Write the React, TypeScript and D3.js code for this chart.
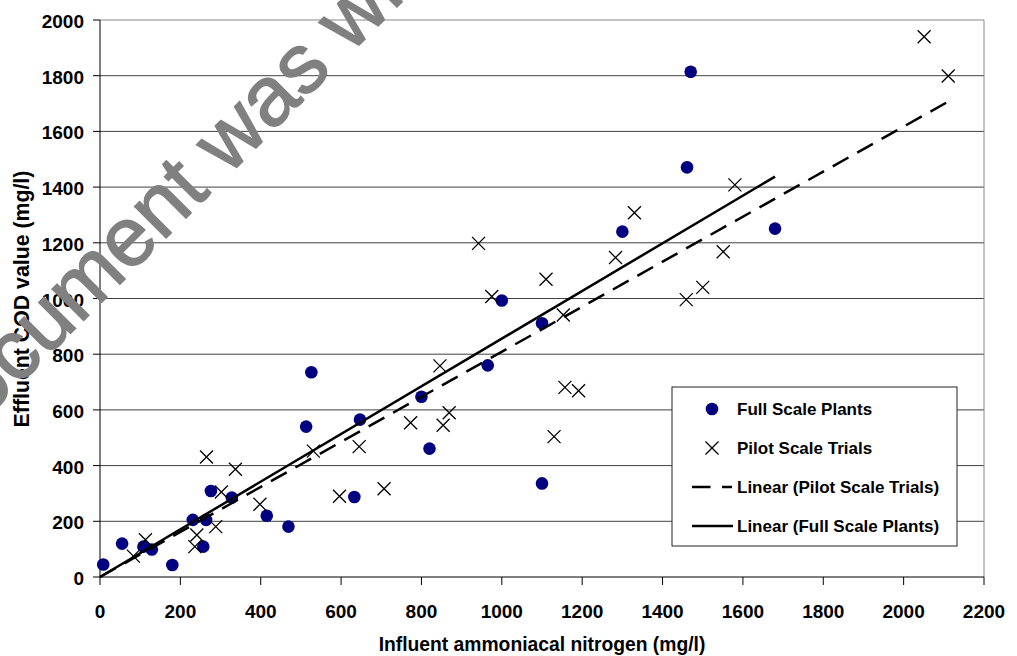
import React from "react";
import * as d3 from "d3";

// Full Scale Plants: influent ammoniacal nitrogen (mg/l) vs effluent COD (mg/l)
const fullX = [8, 55, 108, 129, 180, 231, 257, 264, 276, 328, 415, 469, 513, 526, 633, 647, 800, 820, 965, 1000, 1100, 1100, 1300, 1461, 1470, 1680];
const fullY = [45, 120, 109, 99, 43, 205, 109, 205, 309, 285, 220, 181, 540, 735, 287, 565, 647, 461, 760, 993, 911, 336, 1240, 1471, 1814, 1251];

// Pilot Scale Trials
const pilotX = [83, 113, 236, 241, 265, 288, 302, 337, 398, 531, 596, 645, 707, 773, 846, 854, 869, 942, 975, 1110, 1130, 1153, 1157, 1191, 1283, 1330, 1459, 1500, 1551, 1580, 2051, 2111];
const pilotY = [75, 134, 109, 151, 431, 181, 305, 387, 261, 452, 290, 468, 317, 554, 758, 545, 590, 1198, 1007, 1069, 504, 941, 681, 669, 1147, 1308, 996, 1040, 1168, 1408, 1940, 1799];

const xTicks = [0, 200, 400, 600, 800, 1000, 1200, 1400, 1600, 1800, 2000, 2200];
const yTicks = [0, 200, 400, 600, 800, 1000, 1200, 1400, 1600, 1800, 2000];

const xTitle = "Influent ammoniacal nitrogen (mg/l)";
const yTitle = "Effluent COD value (mg/l)";
const legendLabels = ["Full Scale Plants", "Pilot Scale Trials", "Linear (Pilot Scale Trials)", "Linear (Full Scale Plants)"];
const watermark = "This document was withdrawn";

const FONT = "'Liberation Sans', Arial, sans-serif";

export default function App() {
  const W = 1017;
  const H = 656;
  const x = d3.scaleLinear().domain([0, 2200]).range([100, 984]);
  const y = d3.scaleLinear().domain([0, 2000]).range([577, 20]);

  // linear trend through origin (least squares)
  const slope = (xs: number[], ys: number[]) =>
    d3.sum(xs, (v, i) => v * ys[i]) / d3.sum(xs, (v) => v * v);
  const sFull = slope(fullX, fullY);
  const sPilot = slope(pilotX, pilotY);
  const line = d3
    .line<[number, number]>()
    .x((d) => x(d[0]))
    .y((d) => y(d[1]));
  const fullMax = d3.max(fullX) as number;
  const pilotMax = d3.max(pilotX) as number;
  const fullLine = line([
    [0, 0],
    [fullMax, fullMax * sFull],
  ]) as string;
  const pilotLine = line([
    [0, 0],
    [pilotMax, pilotMax * sPilot],
  ]) as string;

  const crossPath = (cx: number, cy: number, r: number) =>
    `M${cx - r},${cy - r}L${cx + r},${cy + r}M${cx - r},${cy + r}L${cx + r},${cy - r}`;

  const dash = "18,10";
  const lx = 672, ly = 387, lw = 285, lh = 159;
  const rowY = [409, 448, 487, 526];

  return (
    <svg
      width={W}
      height={H}
      viewBox={`0 0 ${W} ${H}`}
      style={{ position: "absolute", left: 0, top: 0, background: "#fff" }}
      fontFamily={FONT}
    >
      <rect x={0} y={0} width={W} height={H} fill="#fff" />
      {/* gridlines */}
      {yTicks.filter((t) => t > 0 && t < 2000).map((t) => (
        <line key={"g" + t} x1={x(0)} x2={x(2200)} y1={y(t)} y2={y(t)} stroke="#404040" strokeWidth={1} />
      ))}
      {/* plot border top/right */}
      <line x1={x(0)} x2={x(2200)} y1={y(2000)} y2={y(2000)} stroke="#888" strokeWidth={1} />
      <line x1={x(2200)} x2={x(2200)} y1={y(2000)} y2={y(0)} stroke="#888" strokeWidth={1} />

      {/* axes */}
      <line x1={x(0)} x2={x(0)} y1={y(2000)} y2={y(0)} stroke="#000" strokeWidth={1} />
      <line x1={x(0)} x2={x(2200)} y1={y(0)} y2={y(0)} stroke="#000" strokeWidth={1} />
      {yTicks.map((t) => (
        <g key={"yt" + t}>
          <line x1={x(0) - 7} x2={x(0)} y1={y(t)} y2={y(t)} stroke="#000" strokeWidth={1} />
          <text x={84} y={y(t) + 8} textAnchor="end" fontSize={19} fontWeight="bold" fill="#000">
            {t}
          </text>
        </g>
      ))}
      {xTicks.map((t) => (
        <g key={"xt" + t}>
          <line x1={x(t)} x2={x(t)} y1={y(0)} y2={y(0) + 8} stroke="#000" strokeWidth={1} />
          <text x={x(t)} y={618} textAnchor="middle" fontSize={19} fontWeight="bold" fill="#000">
            {t}
          </text>
        </g>
      ))}

      {/* data */}
      {fullX.map((v, i) => (
        <circle key={"f" + i} cx={x(v)} cy={y(fullY[i])} r={6.3} fill="#000080" />
      ))}
      {pilotX.map((v, i) => (
        <path key={"p" + i} d={crossPath(x(v), y(pilotY[i]), 6.5)} stroke="#000" strokeWidth={1.3} fill="none" />
      ))}

      {/* trendlines */}
      <path d={pilotLine} stroke="#000" strokeWidth={2.5} fill="none" strokeDasharray={dash} />
      <path d={fullLine} stroke="#000" strokeWidth={2.5} fill="none" />

      {/* axis titles */}
      <text x={542} y={651} textAnchor="middle" fontSize={19.3} fontWeight="bold" fill="#000">
        {xTitle}
      </text>
      <text
        transform={`translate(29,299) rotate(-90)`}
        textAnchor="middle"
        fontSize={21.3}
        fontWeight="bold"
        fill="#000"
      >
        {yTitle}
      </text>

      {/* legend */}
      <rect x={lx} y={ly} width={lw} height={lh} fill="#fff" stroke="#222" strokeWidth={1} />
      <circle cx={712} cy={rowY[0]} r={6.3} fill="#000080" />
      <path d={crossPath(712, rowY[1], 6.5)} stroke="#000" strokeWidth={1.3} fill="none" />
      <line x1={692} x2={732} y1={rowY[2]} y2={rowY[2]} stroke="#000" strokeWidth={2.5} strokeDasharray="18.5,11.5" />
      <line x1={692} x2={733} y1={rowY[3]} y2={rowY[3]} stroke="#000" strokeWidth={2.5} />
      {legendLabels.map((l, i) => (
        <text key={"l" + i} x={737} y={rowY[i] + 6} fontSize={17} fontWeight="bold" fill="#000">
          {l}
        </text>
      ))}

      {/* watermark */}
      <text
        transform={`translate(-178,582) rotate(-45)`}
        fontSize={84}
        fill="#808080"
        stroke="#808080"
        strokeWidth={1.5}
        fontFamily={FONT}
      >
        {watermark}
      </text>
    </svg>
  );
}
